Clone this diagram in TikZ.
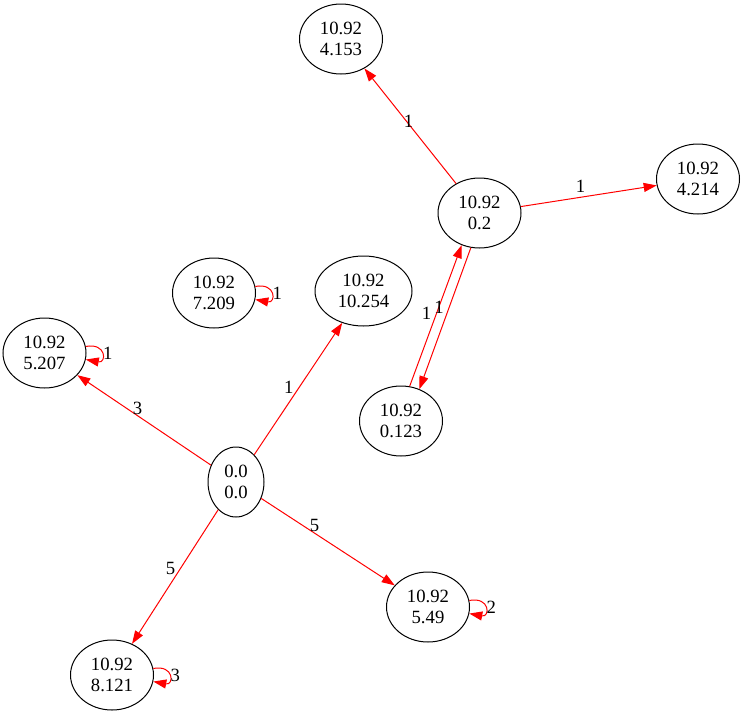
\documentclass[tikz,border=0pt]{standalone}
\usepackage{fontspec}
\setmainfont{Liberation Serif}
\usetikzlibrary{shapes.geometric,arrows.meta}
\begin{document}
\begin{tikzpicture}[x=1pt,y=-1pt,
        vertex/.style={ellipse,draw,line width=1pt,inner sep=0pt,minimum width=83pt,minimum height=70pt,align=center,font=\fontsize{18.7}{21}\selectfont},
        edge/.style={red,line width=1pt,-{Triangle[length=13pt,width=9pt]}},
        weight/.style={text=black,inner sep=1pt,font=\fontsize{18.7}{21}\selectfont}]
    \useasboundingbox (0,0) rectangle (744,715);
    \node[vertex,minimum width=56pt] (n00) at (236,482) {0.0\\0.0};
    \node[vertex] (n0123) at (401,421) {10.92\\0.123};
    \node[vertex] (n02) at (479.5,213) {10.92\\0.2};
    \node[vertex] (n4153) at (341,39) {10.92\\4.153};
    \node[vertex] (n4214) at (698,179) {10.92\\4.214};
    \node[vertex] (n7209) at (214,293) {10.92\\7.209};
    \node[vertex,minimum width=97pt] (n10254) at (363.5,291) {10.92\\10.254};
    \node[vertex] (n5207) at (44.5,353) {10.92\\5.207};
    \node[vertex] (n549) at (428,607) {10.92\\5.49};
    \node[vertex] (n8121) at (112,675) {10.92\\8.121};
    % edges
    \draw[edge] (n00) -- node[weight,pos=0.55,above=-1pt] {3} (n5207);
    \draw[edge] (n00) -- node[weight,pos=0.51,left=4pt] {1} (n10254);
    \draw[edge] (n00) -- node[weight,pos=0.435,left=4pt] {5} (n8121);
    \draw[edge] (n00) -- node[weight,pos=0.4,above] {5} (n549);
    \draw[edge] (n02) -- node[weight,pos=0.54,xshift=2pt] {1} (n4153);
    \draw[edge] (n02) -- node[weight,pos=0.44,above=3pt] {1} (n4214);
    \draw[edge] (n0123.76) -- node[weight,pos=0.52,left=4pt] {1} (n02.241);
    \draw[edge] (n02.256) -- node[weight,pos=0.42,left=4pt] {1} (n0123.60);
    % self loops
    \draw[edge] (n7209.9) .. controls +(21,-4) and +(21,4) .. node[weight,right] {1} (n7209.-9);
    \draw[edge] (n5207.9) .. controls +(21,-4) and +(21,4) .. node[weight,right] {1} (n5207.-9);
    \draw[edge] (n549.9) .. controls +(21,-4) and +(21,4) .. node[weight,right] {2} (n549.-9);
    \draw[edge] (n8121.9) .. controls +(21,-4) and +(21,4) .. node[weight,right] {3} (n8121.-9);
\end{tikzpicture}
\end{document}
